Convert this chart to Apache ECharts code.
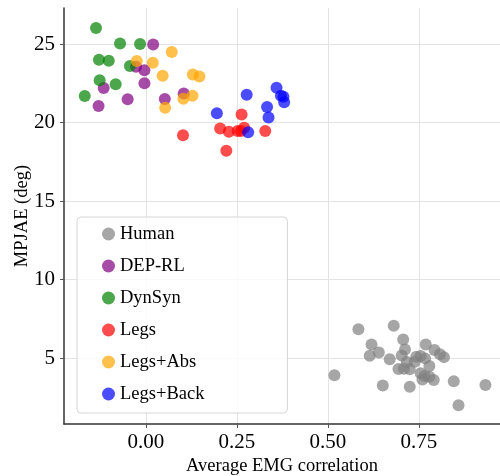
<!DOCTYPE html>
<html>
<head>
<meta charset="utf-8">
<script src="https://cdn.jsdelivr.net/npm/echarts@6/dist/echarts.min.js"></script>
<style>
  html, body { margin: 0; padding: 0; background: #fff; }
  #chart { width: 500px; height: 476px; }
</style>
</head>
<body>
<div id="chart"></div>
<script>
// points are [avg EMG correlation, MPJAE in deg]
var humanPoints = [
  [0.584, 6.83], [0.681, 7.06], [0.707, 6.19], [0.620, 5.87], [0.615, 5.15],
  [0.640, 5.36], [0.670, 4.92], [0.712, 5.55], [0.703, 5.17], [0.717, 4.75],
  [0.694, 4.30], [0.725, 4.28], [0.709, 4.32], [0.769, 5.87], [0.793, 5.51],
  [0.808, 5.24], [0.819, 5.06], [0.743, 5.08], [0.755, 5.13], [0.767, 4.98],
  [0.779, 4.49], [0.755, 4.03], [0.766, 3.85], [0.779, 3.81], [0.791, 3.60],
  [0.760, 3.64], [0.518, 3.90], [0.651, 3.26], [0.725, 3.17], [0.846, 3.52],
  [0.933, 3.28], [0.859, 1.99], [0.739, 4.77]
];
var depRlPoints = [
  [0.020, 24.98], [-0.027, 23.55], [-0.004, 23.34], [-0.004, 22.50], [-0.116, 22.20],
  [-0.050, 21.48], [-0.130, 21.05], [0.052, 21.50], [0.104, 21.86]
];
var dynSynPoints = [
  [-0.137, 26.02], [-0.071, 25.04], [-0.016, 25.00], [-0.129, 24.00], [-0.102, 23.94],
  [-0.044, 23.60], [-0.127, 22.70], [-0.083, 22.45], [-0.168, 21.70]
];
var legsPoints = [
  [0.263, 20.52], [0.102, 19.20], [0.204, 19.63], [0.228, 19.41], [0.252, 19.46],
  [0.270, 19.67], [0.261, 19.46], [0.328, 19.46], [0.221, 18.20]
];
var legsAbsPoints = [
  [0.071, 24.49], [-0.025, 23.92], [0.019, 23.81], [0.046, 22.98], [0.129, 23.07],
  [0.147, 22.94], [0.128, 21.71], [0.103, 21.52], [0.053, 20.94]
];
var legsBackPoints = [
  [0.277, 21.77], [0.195, 20.59], [0.359, 22.22], [0.378, 21.65], [0.380, 21.29],
  [0.371, 21.71], [0.333, 21.00], [0.337, 20.33], [0.281, 19.39]
];

var seriesNames = ['Human', 'DEP-RL', 'DynSyn', 'Legs', 'Legs+Abs', 'Legs+Back'];
var seriesData = [humanPoints, depRlPoints, dynSynPoints, legsPoints, legsAbsPoints, legsBackPoints];
var seriesColors = ['#808080', '#800080', '#008000', '#ff0000', '#ffa500', '#0000ff'];

var xTicks = [0, 0.25, 0.5, 0.75];
var yTicks = [5, 10, 15, 20, 25];

var serif = '"Liberation Serif", "Times New Roman", serif';

var chart = echarts.init(document.getElementById('chart'), null, { renderer: 'canvas' });

var series = seriesNames.map(function (name, i) {
  return {
    name: name,
    type: 'scatter',
    data: seriesData[i],
    symbol: 'circle',
    symbolSize: 12,
    itemStyle: { color: seriesColors[i], opacity: 0.7 }
  };
});

var option = {
  animation: false,
  grid: { left: 64, right: 0, top: 8, bottom: 52, outerBoundsMode: 'none', containLabel: false },
  legend: {
    orient: 'vertical',
    left: 77,
    top: 217,
    data: seriesNames,
    icon: 'circle',
    itemWidth: 13,
    itemHeight: 13,
    itemGap: 12,
    padding: [7, 83, 9, 25],
    backgroundColor: 'rgba(255,255,255,0.8)',
    borderColor: '#d6d6d6',
    borderWidth: 1,
    borderRadius: 4,
    textStyle: { fontFamily: serif, fontSize: 18.5, color: '#000', lineHeight: 20 }
  },
  xAxis: {
    type: 'value',
    min: -0.225,
    max: 0.973,
    name: 'Average EMG correlation',
    nameLocation: 'middle',
    nameGap: 33,
    nameMoveOverlap: false,
    nameTextStyle: { fontFamily: serif, fontSize: 18.5, color: '#000' },
    axisLine: { show: true, onZero: false, lineStyle: { color: '#333', width: 1.5 } },
    axisTick: { show: true, length: 4, lineStyle: { color: '#555' }, customValues: xTicks },
    axisLabel: {
      customValues: xTicks,
      margin: 8,
      fontFamily: serif,
      fontSize: 21,
      color: '#000',
      formatter: function (v) { return v.toFixed(2); }
    },
    splitLine: { show: true, lineStyle: { color: '#e3e3e3', width: 1 } }
  },
  yAxis: {
    type: 'value',
    min: 0.8,
    max: 27.3,
    name: 'MPJAE (deg)',
    nameLocation: 'middle',
    nameGap: 32,
    nameMoveOverlap: false,
    nameTextStyle: { fontFamily: serif, fontSize: 18.5, color: '#000' },
    axisLine: { show: true, onZero: false, lineStyle: { color: '#333', width: 1.5 } },
    axisTick: { show: true, length: 4, lineStyle: { color: '#555' }, customValues: yTicks },
    axisLabel: {
      customValues: yTicks,
      margin: 9,
      fontFamily: serif,
      fontSize: 21,
      color: '#000'
    },
    splitLine: { show: true, lineStyle: { color: '#e3e3e3', width: 1 } }
  },
  series: series
};

chart.setOption(option);
</script>
</body>
</html>
